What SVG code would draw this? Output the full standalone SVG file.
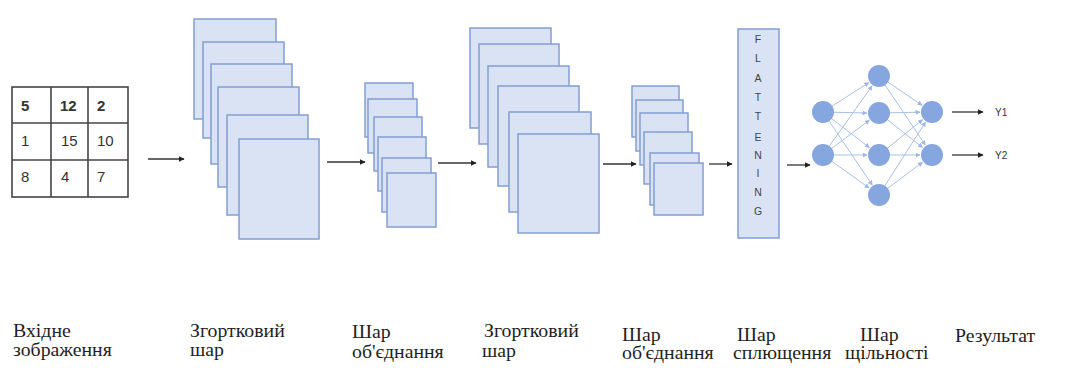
<svg xmlns="http://www.w3.org/2000/svg" width="1072" height="385" viewBox="0 0 1072 385">
<style>
.fm{fill:#dae3f3;stroke:#839fd4;stroke-width:1.5}
.tb{fill:none;stroke:#444;stroke-width:1.6}
.num{font-family:"Liberation Sans",Arial,sans-serif;font-size:15px;fill:#333}
.b{font-weight:bold}
.ar{stroke:#333;stroke-width:1.3;fill:none}
.nn{stroke:#aabfe5;stroke-width:1;fill:none}
.nd{fill:#85a6de}
.lbl{font-family:'Liberation Serif',serif;font-size:18px;fill:#1e1e1e}
.fl{font-family:"Liberation Sans",Arial,sans-serif;font-size:10.5px;fill:#444;text-anchor:middle}
.y{font-family:"Liberation Sans",Arial,sans-serif;font-size:10px;fill:#333}
</style>
<defs>
<marker id="ah" viewBox="0 0 10 10" refX="9" refY="5" markerWidth="6" markerHeight="6" markerUnits="userSpaceOnUse" orient="auto"><path d="M0,0L10,5L0,10z" fill="#222"/></marker>
<marker id="an" viewBox="0 0 10 10" refX="9" refY="5" markerWidth="5" markerHeight="5" markerUnits="userSpaceOnUse" orient="auto"><path d="M0,0L10,5L0,10z" fill="#9fb7e2"/></marker>
</defs>
<g id="input">
<rect class="tb" x="12" y="87" width="116" height="110"/>
<line class="tb" x1="51" y1="87" x2="51" y2="197"/>
<line class="tb" x1="88" y1="87" x2="88" y2="197"/>
<line class="tb" x1="12" y1="123" x2="128" y2="123"/>
<line class="tb" x1="12" y1="160" x2="128" y2="160"/>
<text class="num b" x="21" y="111">5</text>
<text class="num b" x="60" y="111">12</text>
<text class="num b" x="97" y="111">2</text>
<text class="num" x="21" y="146">1</text>
<text class="num" x="61" y="146">15</text>
<text class="num" x="97" y="146">10</text>
<text class="num" x="21" y="182">8</text>
<text class="num" x="61" y="182">4</text>
<text class="num" x="97" y="182">7</text>
</g>
<g id="conv1">
<rect class="fm" x="194" y="19" width="82" height="100"/>
<rect class="fm" x="203" y="42" width="81" height="96"/>
<rect class="fm" x="211" y="64" width="81" height="100"/>
<rect class="fm" x="218" y="87" width="81" height="100"/>
<rect class="fm" x="227" y="115" width="81" height="100"/>
<rect class="fm" x="239" y="139" width="80" height="100"/>
</g>
<g id="pool1">
<rect class="fm" x="365" y="83" width="48" height="54"/>
<rect class="fm" x="368" y="99" width="49" height="54"/>
<rect class="fm" x="374" y="117" width="48" height="54"/>
<rect class="fm" x="378" y="137" width="48" height="54"/>
<rect class="fm" x="382" y="158" width="49" height="54"/>
<rect class="fm" x="387" y="173" width="49" height="54"/>
</g>
<g id="conv2">
<rect class="fm" x="470" y="28" width="81" height="100"/>
<rect class="fm" x="479" y="44" width="80" height="100"/>
<rect class="fm" x="488" y="66" width="81" height="101"/>
<rect class="fm" x="498" y="86" width="81" height="100"/>
<rect class="fm" x="509" y="112" width="82" height="100"/>
<rect class="fm" x="518" y="134" width="81" height="99"/>
</g>
<g id="pool2">
<rect class="fm" x="632" y="86" width="47" height="51"/>
<rect class="fm" x="636" y="100" width="47" height="51"/>
<rect class="fm" x="640" y="113" width="48" height="52"/>
<rect class="fm" x="644" y="132" width="48" height="52"/>
<rect class="fm" x="650" y="153" width="49" height="52"/>
<rect class="fm" x="654" y="163" width="49" height="52"/>
</g>
<g id="flatten">
<rect class="fm" x="738" y="29" width="41" height="209"/>
<text class="fl" x="758" y="43">F</text>
<text class="fl" x="758" y="62">L</text>
<text class="fl" x="758" y="82">A</text>
<text class="fl" x="758" y="101">T</text>
<text class="fl" x="758" y="120">T</text>
<text class="fl" x="758" y="141">E</text>
<text class="fl" x="758" y="159">N</text>
<text class="fl" x="758" y="177">I</text>
<text class="fl" x="758" y="196">N</text>
<text class="fl" x="758" y="215">G</text>
</g>
<g id="connectors">
<line class="ar" x1="148" y1="159" x2="184" y2="159" marker-end="url(#ah)"/>
<line class="ar" x1="327" y1="162" x2="365" y2="162" marker-end="url(#ah)"/>
<line class="ar" x1="438" y1="163" x2="476" y2="163" marker-end="url(#ah)"/>
<line class="ar" x1="603" y1="164" x2="636" y2="164" marker-end="url(#ah)"/>
<line class="ar" x1="709" y1="164" x2="732" y2="164" marker-end="url(#ah)"/>
<line class="ar" x1="787" y1="165" x2="810" y2="165" marker-end="url(#ah)"/>
<line class="ar" x1="952" y1="112" x2="983" y2="112" marker-end="url(#ah)"/>
<line class="ar" x1="952" y1="155" x2="983" y2="155" marker-end="url(#ah)"/>
<g marker-end="url(#an)">
<line class="nn" x1="823" y1="112" x2="868.9" y2="82.5"/>
<line class="nn" x1="823" y1="112" x2="867" y2="113"/>
<line class="nn" x1="823" y1="112" x2="869.5" y2="147.7"/>
<line class="nn" x1="823" y1="112" x2="872.3" y2="185.1"/>
<line class="nn" x1="823" y1="155" x2="872.1" y2="85.8"/>
<line class="nn" x1="823" y1="155" x2="869.4" y2="120.2"/>
<line class="nn" x1="823" y1="155" x2="867" y2="155"/>
<line class="nn" x1="823" y1="155" x2="869.2" y2="188"/>
<line class="nn" x1="879" y1="76" x2="922.1" y2="105.3"/>
<line class="nn" x1="879" y1="113" x2="920" y2="112.2"/>
<line class="nn" x1="879" y1="155" x2="922.7" y2="119.6"/>
<line class="nn" x1="879" y1="195" x2="925.5" y2="122.1"/>
<line class="nn" x1="879" y1="76" x2="925.3" y2="145"/>
<line class="nn" x1="879" y1="113" x2="922.6" y2="147.5"/>
<line class="nn" x1="879" y1="155" x2="920" y2="155"/>
<line class="nn" x1="879" y1="195" x2="922.4" y2="162.2"/>
</g>
</g>
<g id="dense">
<circle class="nd" cx="823" cy="112" r="11"/>
<circle class="nd" cx="823" cy="155" r="11"/>
<circle class="nd" cx="879" cy="76" r="11"/>
<circle class="nd" cx="879" cy="113" r="11"/>
<circle class="nd" cx="879" cy="155" r="11"/>
<circle class="nd" cx="879" cy="195" r="11"/>
<circle class="nd" cx="932" cy="112" r="11"/>
<circle class="nd" cx="932" cy="155" r="11"/>
</g>
<g id="outputs">
<text class="y" x="995" y="116">Y1</text>
<text class="y" x="995" y="159">Y2</text>
</g>
<g id="labels">
<text class="lbl" transform="translate(13,337) scale(1.1,1)">Вхідне</text>
<text class="lbl" transform="translate(13,356) scale(1.1,1)">зображення</text>
<text class="lbl" transform="translate(190,337) scale(1.1,1)">Згортковий</text>
<text class="lbl" transform="translate(190,356) scale(1.1,1)">шар</text>
<text class="lbl" transform="translate(352,338) scale(1.1,1)">Шар</text>
<text class="lbl" transform="translate(352,358) scale(1.1,1)">об'єднання</text>
<text class="lbl" transform="translate(484,337) scale(1.1,1)">Згортковий</text>
<text class="lbl" transform="translate(482,357) scale(1.1,1)">шар</text>
<text class="lbl" transform="translate(622,341) scale(1.1,1)">Шар</text>
<text class="lbl" transform="translate(622,359) scale(1.1,1)">об'єднання</text>
<text class="lbl" transform="translate(737,341) scale(1.1,1)">Шар</text>
<text class="lbl" transform="translate(733,359) scale(1.1,1)">сплющення</text>
<text class="lbl" transform="translate(860,341) scale(1.1,1)">Шар</text>
<text class="lbl" transform="translate(845,359) scale(1.1,1)">щільності</text>
<text class="lbl" transform="translate(955,342) scale(1.1,1)">Результат</text>
</g>
</svg>
